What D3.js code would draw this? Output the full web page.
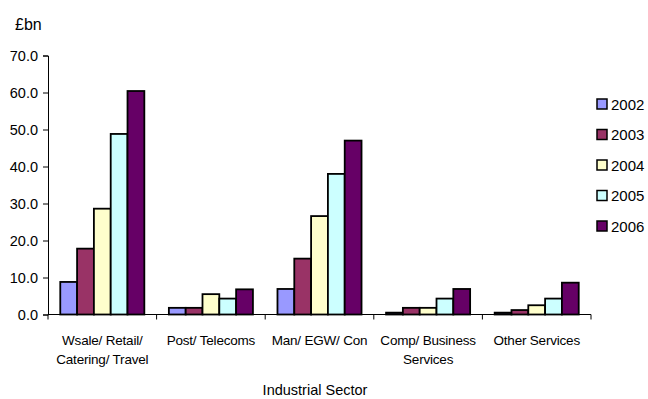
<!DOCTYPE html>
<html>
<head>
<meta charset="utf-8">
<script src="https://cdn.jsdelivr.net/npm/d3@7"></script>
<style>
  html, body { margin: 0; padding: 0; background: #fff; }
  svg { display: block; }
  text { font-family: "Liberation Sans", Arial, sans-serif; fill: #000; }
</style>
</head>
<body>
<svg id="chart" width="648" height="399"></svg>
<script>
// Sectors along the x axis (label lines)
const categories = ["Wsale/ Retail/ Catering/ Travel", "Post/ Telecoms", "Man/ EGW/ Con", "Comp/ Business Services", "Other Services"];
const categoryLines = [["Wsale/ Retail/", "Catering/ Travel"], ["Post/ Telecoms"], ["Man/ EGW/ Con"], ["Comp/ Business", "Services"], ["Other Services"]];
const years = ["2002", "2003", "2004", "2005", "2006"];

// £bn by year, one array per year, in sector order
const v2002 = [8.8, 1.8, 6.9, 0.5, 0.5];
const v2003 = [17.8, 1.8, 15.1, 1.8, 1.2];
const v2004 = [28.6, 5.5, 26.6, 1.8, 2.5];
const v2005 = [48.8, 4.3, 38.0, 4.3, 4.3];
const v2006 = [60.4, 6.8, 47.0, 6.9, 8.6];
const seriesValues = [v2002, v2003, v2004, v2005, v2006];

const yTicks = [0, 10, 20, 30, 40, 50, 60, 70];
const colors = ["#9999FF", "#993366", "#FFFFCC", "#CCFFFF", "#660066"];

const svg = d3.select("#chart");

const x0 = d3.scaleBand().domain(categories).range([48, 591]).padding(0);
const x1 = d3.scaleBand().domain(years).range([0, x0.bandwidth()]).paddingInner(0).paddingOuter(0.73);
const y = d3.scaleLinear().domain([0, 70]).range([314.5, 55.5]);
const color = d3.scaleOrdinal().domain(years).range(colors);

// Bars
const groups = svg.append("g").selectAll("g")
  .data(categories)
  .join("g")
  .attr("transform", d => `translate(${x0(d)},0)`);

groups.selectAll("rect")
  .data((c, ci) => years.map((yr, yi) => ({ year: yr, value: seriesValues[yi][ci] })))
  .join("rect")
  .attr("x", d => x1(d.year))
  .attr("width", x1.bandwidth())
  .attr("y", d => y(d.value))
  .attr("height", d => y(0) - y(d.value))
  .attr("fill", d => color(d.year))
  .attr("stroke", "#000")
  .attr("stroke-width", 1.8);

// Y axis
const yAxis = d3.axisLeft(y).tickValues(yTicks).tickFormat(d3.format(".1f")).tickSize(5).tickPadding(5);
const gy = svg.append("g").attr("transform", "translate(48,0)").call(yAxis);
gy.select(".domain").attr("stroke", "#000");
gy.selectAll(".tick line").attr("stroke", "#000");
gy.selectAll("text").attr("font-size", "14.5px").attr("font-family", "Liberation Sans, Arial, sans-serif");

// X axis baseline and category boundary ticks
const boundaries = categories.map(c => x0(c)).concat([x0.range()[1]]);
svg.append("line")
  .attr("x1", 48).attr("x2", 591)
  .attr("y1", y(0)).attr("y2", y(0))
  .attr("stroke", "#000").attr("stroke-width", 1);
svg.append("g").selectAll("line")
  .data(boundaries)
  .join("line")
  .attr("x1", d => d).attr("x2", d => d)
  .attr("y1", y(0)).attr("y2", y(0) + 5)
  .attr("stroke", "#000");

// Category labels
svg.append("g").selectAll("text")
  .data(categories)
  .join("text")
  .attr("text-anchor", "middle")
  .attr("font-size", "13.5px")
  .attr("letter-spacing", "-0.2px")
  .attr("transform", d => `translate(${x0(d) + x0.bandwidth() / 2},345)`)
  .each(function (d, i) {
    d3.select(this).selectAll("tspan")
      .data(categoryLines[i])
      .join("tspan")
      .attr("x", 0)
      .attr("dy", (l, j) => j === 0 ? 0 : 18.5)
      .text(l => l);
  });

// Axis titles
svg.append("text")
  .attr("x", 315).attr("y", 395)
  .attr("text-anchor", "middle")
  .attr("font-size", "14.5px")
  .text("Industrial Sector");

svg.append("text")
  .attr("x", 15).attr("y", 30)
  .attr("font-size", "16px")
  .text("£bn");

// Legend
const legend = svg.append("g").selectAll("g")
  .data(years)
  .join("g")
  .attr("transform", (d, i) => `translate(597,${99 + i * 30.5})`);
legend.append("rect")
  .attr("width", 10).attr("height", 10)
  .attr("fill", d => color(d))
  .attr("stroke", "#000").attr("stroke-width", 1.5);
legend.append("text")
  .attr("x", 14).attr("y", 10.5)
  .attr("font-size", "15px")
  .text(d => d);
</script>
</body>
</html>
